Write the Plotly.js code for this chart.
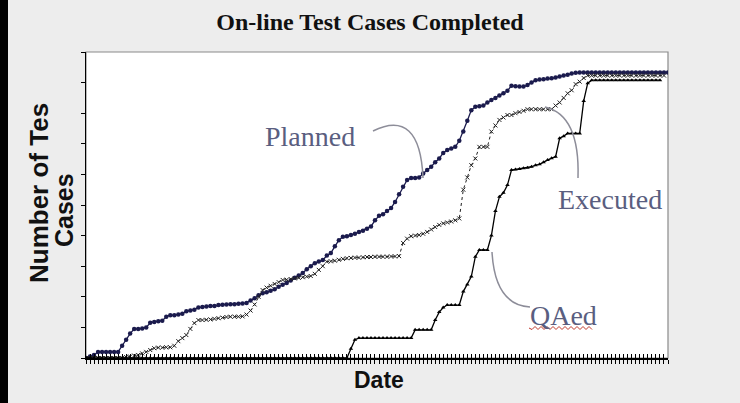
<!DOCTYPE html>
<html>
<head>
<meta charset="utf-8">
<script src="https://cdn.plot.ly/plotly-3.0.1.min.js"></script>
<style>
  html, body { margin: 0; padding: 0; background: #ededed; }
  #chart { width: 740px; height: 403px; }
</style>
</head>
<body>
<div id="chart"></div>
<script>
// Values (cumulative test cases, relative units 0-100), one per day
const planned = [
  0, 0.5, 1, 2, 2, 2, 2, 2, 2, 4, 6, 8, 9.5, 9.5, 9.6, 10,
  11.5, 11.8, 12, 12.2, 13.5, 14, 14, 14.2, 14.5, 15.3, 15.5, 15.8,
  16.5, 16.7, 16.8, 17, 17, 17.3, 17.4, 17.5, 17.6, 17.6, 17.7, 17.8, 18,
  18.8, 19.5, 20.5, 21.2, 21.5, 22, 22.5, 23.3, 23.9, 24.5,
  25.3, 26.2, 27, 27.8, 29, 30, 31, 31.5, 32, 33.5,
  34.3, 36.5, 38.5, 39.6, 39.8, 40.2, 40.6, 41.2, 41.6, 42.2,
  43, 45, 46.5, 47, 48, 49, 51, 53.5, 56, 58.2,
  58.8, 58.8, 59, 60.3, 61.4, 62.5, 64, 65.2, 67, 68,
  68.5, 69, 71, 74, 77.5, 81, 82.1, 82.3, 82.5, 83.5,
  84.3, 85, 85.8, 86.5, 87.3, 89, 88.8, 88.7, 88.7, 89.2,
  90, 90.8, 91, 91.1, 91.3, 91.4, 91.7, 92, 92.3, 92.6, 93, 93.2,
  93.3, 93.3, 93.3, 93.3, 93.3, 93.3, 93.3, 93.3, 93.3, 93.3, 93.3, 93.3,
  93.3, 93.3, 93.3, 93.3, 93.3, 93.3, 93.3, 93.3, 93.3, 93.3, 93.3
];
const executed = [
  0, 0, 0, 0, 0, 0, 0, 0, 0, 0,
  0.3, 0.5, 0.8, 1, 1.5, 2, 2.6, 3.2,
  3.4, 3.4, 3.5, 3.5, 4,
  5.5, 6.5, 7.5, 9.5, 11.4, 12.4,
  12.4, 12.5, 12.6, 12.8, 13, 13.2, 13.4, 13.5, 13.5, 13.5, 13.6,
  14.2, 15.5, 17.5, 20, 22.2, 23, 23.6, 24.2, 24.8, 25.5,
  25.6, 25.8, 26, 26.2, 26.4, 26.6, 26.8, 27.5, 28.8, 30,
  31.5, 31.6, 31.8, 32.1, 32.4, 32.6, 32.7, 32.8, 32.8, 32.9,
  33, 33, 33.1, 33.1, 33.1, 33.1, 33.2, 33.2, 33.3, 37.6,
  39, 39.8, 40, 40.2, 40.6, 41.2, 42, 42.8, 43.5, 44,
  44.3, 44.6, 45, 45.6, 55, 59, 63, 65.2, 69, 69,
  69, 74, 76, 77.8, 78.6, 79.4, 79.4, 80, 80.4, 80.8,
  81.3, 81.3, 81.3, 81.3, 81.3, 81.3, 81.3, 82.5, 83.5, 85,
  86.5, 87.5, 89.5, 90.3, 91.5,
  92.3, 92.3, 92.3, 92.3, 92.3, 92.3, 92.3, 92.3, 92.3, 92.3,
  92.3, 92.3, 92.3, 92.3, 92.3, 92.3, 92.3, 92.3, 92.3, 92.3
];
const qaed = [
  0, 0, 0, 0, 0, 0, 0, 0, 0, 0, 0, 0, 0, 0, 0, 0, 0, 0, 0, 0, 0, 0,
  0, 0, 0, 0, 0, 0, 0, 0, 0, 0, 0, 0, 0, 0, 0, 0, 0, 0, 0, 0, 0, 0,
  0, 0, 0, 0, 0, 0, 0, 0, 0, 0, 0, 0, 0, 0, 0, 0, 0, 0, 0, 0, 0, 0,
  3, 6,
  6.5, 6.5, 6.5, 6.5, 6.5, 6.5, 6.5, 6.5, 6.5, 6.5, 6.5, 6.5, 6.5, 6.5,
  9.2, 9.2, 9.2, 9.2, 9.2,
  12.4, 15, 16.5,
  17.3, 17.3, 17.3, 17.3,
  21.7, 24, 26.6, 33.1, 35.3, 35.3, 35.3,
  40, 48, 52.7, 54, 56.5, 61.4, 61.6, 61.8, 62,
  62.2, 62.5, 63, 63.3, 64, 64.7, 65.3, 65.8,
  71.8, 72.5, 73.4, 73.4, 73.4, 73.4,
  84, 89.8,
  90.8, 90.8, 90.8, 90.8, 90.8, 90.8, 90.8, 90.8, 90.8,
  90.8, 90.8, 90.8, 90.8, 90.8, 90.8, 90.8, 90.8, 90.8
];
const seriesNames = ['Planned', 'Executed', 'QAed'];
const titleText = 'On-line Test Cases Completed';
const xTitle = 'Date';
const yTitleLines = ['Number of Tes', 'Cases'];
const nDays = 146;

const dayIdx = n => Array.from({length: n}, (_, i) => i);
const tickDays = dayIdx(nDays);

// plot area in pixels: left 86, right 668, top 52, bottom 358
const L = 86, R = 668, T = 52, B = 358;
const px = x => (x - L) / (R - L);
const py = y => (B - y) / (B - T);

const traces = [
  { x: dayIdx(planned.length), y: planned, name: seriesNames[0], mode: 'lines+markers',
    line: { color: '#1b1b4d', width: 1.3 },
    marker: { symbol: 'circle', size: 4.5, color: '#1b1b4d' } },
  { x: dayIdx(executed.length), y: executed, name: seriesNames[1], mode: 'lines+markers',
    line: { color: '#222', width: 1, dash: 'dot' },
    marker: { symbol: 'x-thin-open', size: 4, line: { color: '#111', width: 1 } } },
  { x: dayIdx(qaed.length), y: qaed, name: seriesNames[2], mode: 'lines+markers',
    line: { color: '#000', width: 1.3 },
    marker: { symbol: 'triangle-up', size: 4, color: '#000' } },
  // invisible trace to carry the second (inner-tick) x axis
  { x: [0], y: [0], xaxis: 'x2', mode: 'markers', marker: { opacity: 0 }, hoverinfo: 'skip', showlegend: false }
];

// red wavy underline under "QAed"
let wave = 'M ' + px(529) + ',' + py(328);
for (let i = 1; i <= 21; i++) {
  wave += ' L ' + px(529 + i * 3) + ',' + py(328 + (i % 2 ? 1.5 : -1.5));
}

const labelFont = { family: 'Liberation Serif, Times New Roman, serif', size: 28, color: '#5a5e80' };
const lab = (t, x, y) => ({ text: t, xref: 'paper', yref: 'paper', x: px(x), y: py(y),
  xanchor: 'center', yanchor: 'middle', showarrow: false, font: labelFont });
const axFont = s => ({ family: 'Liberation Sans, Arial, sans-serif', size: s, color: '#111' });

const layout = {
  width: 740, height: 403,
  margin: { l: L, r: 740 - R, t: T, b: 403 - B },
  paper_bgcolor: '#ededed',
  plot_bgcolor: '#ffffff',
  showlegend: false,
  title: { text: '<b>' + titleText + '</b>', x: 0.5, xref: 'container', xanchor: 'center',
           y: 1 - 22 / 403, yanchor: 'middle',
           font: { family: 'Liberation Serif, Times New Roman, serif', size: 24, color: '#111' } },
  xaxis: { range: [0, nDays - 1], tickmode: 'array', tickvals: tickDays, ticks: 'outside', ticklen: 4,
           tickcolor: '#000', tickwidth: 1, showticklabels: false, showgrid: false, zeroline: false,
           showline: true, linecolor: '#000', linewidth: 1.5 },
  xaxis2: { range: [0, nDays - 1], overlaying: 'x', side: 'bottom', tickmode: 'array', tickvals: tickDays,
            ticks: 'inside', ticklen: 4, tickcolor: '#000', tickwidth: 1, showticklabels: false,
            showgrid: false, zeroline: false, showline: false },
  yaxis: { range: [0, 100], dtick: 10, tick0: 0, ticks: 'outside', ticklen: 4, tickcolor: '#000',
           showticklabels: false, showgrid: false, zeroline: false, showline: true, linecolor: '#000', linewidth: 1.5 },
  shapes: [
    { type: 'rect', xref: 'paper', yref: 'paper', x0: 0, x1: 1, y0: 0, y1: 1, line: { color: '#8a8a8a', width: 1.2 }, layer: 'below' },
    { type: 'path', xref: 'paper', yref: 'paper', path: 'M ' + px(373) + ',' + py(131) + ' Q ' + px(420) + ',' + py(108) + ' ' + px(423) + ',' + py(178),
      line: { color: '#8d8d99', width: 1.5 } },
    { type: 'path', xref: 'paper', yref: 'paper', path: 'M ' + px(545) + ',' + py(107) + ' Q ' + px(580) + ',' + py(115) + ' ' + px(578) + ',' + py(178),
      line: { color: '#8d8d99', width: 1.5 } },
    { type: 'path', xref: 'paper', yref: 'paper', path: 'M ' + px(492) + ',' + py(252) + ' Q ' + px(495) + ',' + py(305) + ' ' + px(530) + ',' + py(307),
      line: { color: '#8d8d99', width: 1.5 } },
    { type: 'path', xref: 'paper', yref: 'paper', path: wave, line: { color: '#c0392b', width: 1 } }
  ],
  annotations: [
    // black slide edge on the left
    { text: ' ', xref: 'paper', yref: 'paper', x: px(0), y: py(0), xanchor: 'left', yanchor: 'top',
      width: 8, height: 403, bgcolor: '#000000', borderpad: 0, borderwidth: 0, showarrow: false },
    lab(seriesNames[0], 310, 136),
    lab(seriesNames[1], 610, 200),
    lab(seriesNames[2], 563, 315),
    { text: '<b>' + yTitleLines[0] + '</b>', xref: 'paper', yref: 'paper', x: px(39), y: py(193), textangle: -90,
      xanchor: 'center', yanchor: 'middle', showarrow: false, font: axFont(26) },
    { text: '<b>' + yTitleLines[1] + '</b>', xref: 'paper', yref: 'paper', x: px(64), y: py(210), textangle: -90,
      xanchor: 'center', yanchor: 'middle', showarrow: false, font: axFont(25) },
    { text: '<b>' + xTitle + '</b>', xref: 'paper', yref: 'paper', x: px(379), y: py(380),
      xanchor: 'center', yanchor: 'middle', showarrow: false, font: axFont(23) }
  ]
};

Plotly.newPlot('chart', traces, layout, { displayModeBar: false, staticPlot: true });
</script>
</body>
</html>
